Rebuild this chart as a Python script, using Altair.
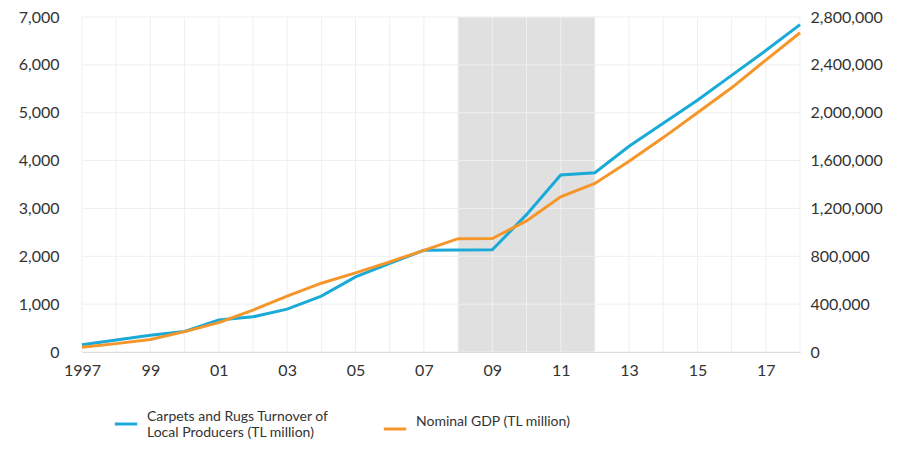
import altair as alt
import pandas as pd

# ---- data ----
years = list(range(1997, 2019))
carpets = [150, 250, 350, 430, 670, 735, 896, 1167, 1569, 1854, 2125, 2130, 2135,
           2870, 3700, 3745, 4300, 4780, 5260, 5780, 6300, 6840]
gdp = [40000, 70000, 104000, 170000, 245000, 350000, 467000, 575000, 661000, 753000,
       850000, 947000, 949000, 1096000, 1297000, 1409000, 1595000, 1792000, 2000000,
       2208000, 2440000, 2668000]
left_ticks = [0, 1000, 2000, 3000, 4000, 5000, 6000, 7000]
right_ticks = [0, 400000, 800000, 1200000, 1600000, 2000000, 2400000, 2800000]
band_start = [2008]
band_end = [2012]

SER_C = "Carpets and Rugs Turnover of Local Producers (TL million)"
SER_G = "Nominal GDP (TL million)"

BLUE = "#1AAAD8"
ORANGE = "#F5962A"
FONT = "Lato"
TXT = "#333333"
AX_FS = 16
LG_FS = 14

df_c = pd.DataFrame({"year": years, "carpets": carpets, "series": SER_C})
df_g = pd.DataFrame({"year": years, "gdp": gdp, "series": SER_G})
df_band = pd.DataFrame({"start": band_start, "end": band_end})
df_vgrid = pd.DataFrame({"year": years})
df_hgrid = pd.DataFrame({"tick": left_ticks})

cscale = alt.Scale(domain=[SER_C, SER_G], range=[BLUE, ORANGE])

label_expr = ("datum.value % 2 == 0 ? '' : (datum.value == 1997 ? '1997' : "
              "(datum.value % 100 < 10 ? '0' + (datum.value % 100) : '' + (datum.value % 100)))")


def xs():
    return alt.Scale(domain=[1997, 2018], nice=False, zero=False)


def x_axis():
    return alt.Axis(values=years, labelExpr=label_expr, grid=False, ticks=False,
                    domain=True, domainColor="#cccccc", domainWidth=1, labelPadding=10,
                    title=None, labelFontSize=AX_FS, labelColor=TXT, labelFont=FONT,
                    labelFlush=False)


band = alt.Chart(df_band).mark_rect(color="#e0e0e0").encode(
    x=alt.X("start:Q", scale=xs(), axis=x_axis()),
    x2="end:Q",
)

vgrid = alt.Chart(df_vgrid).mark_rule(color="#efefef", strokeWidth=1).encode(
    x=alt.X("year:Q", scale=xs(), axis=x_axis()),
)

hgrid = alt.Chart(df_hgrid).mark_rule(color="#efefef", strokeWidth=1).encode(
    x=alt.value(0), x2=alt.value(718),
    y=alt.Y("tick:Q", scale=alt.Scale(domain=[0, 7000], nice=False), axis=None),
)

legend = alt.Legend(
    title=None, orient="none", legendX=31, legendY=394, direction="horizontal",
    symbolType="stroke", symbolStrokeWidth=3, symbolSize=500, labelFontSize=LG_FS,
    labelColor=TXT, labelFont=FONT, labelLimit=0, columnPadding=48, labelOffset=8,
    labelBaseline="bottom",
    labelExpr=("datum.label == '" + SER_C + "' ? ['Carpets and Rugs Turnover of', "
               "'Local Producers (TL million)'] : datum.label"),
)

blue_line = alt.Chart(df_c).mark_line(strokeWidth=3).encode(
    x=alt.X("year:Q", scale=xs(), axis=x_axis()),
    y=alt.Y("carpets:Q", scale=alt.Scale(domain=[0, 7000], nice=False),
            axis=alt.Axis(orient="left", values=left_ticks, format=",.0f", grid=False,
                          domain=False, ticks=False, labelPadding=23, title=None,
                          labelFontSize=AX_FS, labelColor=TXT, labelFont=FONT)),
    color=alt.Color("series:N", scale=cscale, legend=legend),
)

orange_line = alt.Chart(df_g).mark_line(strokeWidth=3).encode(
    x=alt.X("year:Q", scale=xs(), axis=x_axis()),
    y=alt.Y("gdp:Q", scale=alt.Scale(domain=[0, 2800000], nice=False),
            axis=alt.Axis(orient="right", values=right_ticks, format=",.0f", grid=False,
                          domain=False, ticks=False, labelPadding=10, title=None,
                          labelFontSize=AX_FS, labelColor=TXT, labelFont=FONT)),
    color=alt.Color("series:N", scale=cscale, legend=legend),
)

chart = alt.layer(
    band, vgrid, hgrid, blue_line, orange_line
).resolve_scale(y="independent").properties(
    width=718, height=335,
    autosize=alt.AutoSizeParams(type="none"),
    padding={"left": 74, "top": 9, "right": 94, "bottom": 90},
).configure_view(stroke=None)

chart.save("out.html", embed_options={"renderer": "svg", "actions": False})
